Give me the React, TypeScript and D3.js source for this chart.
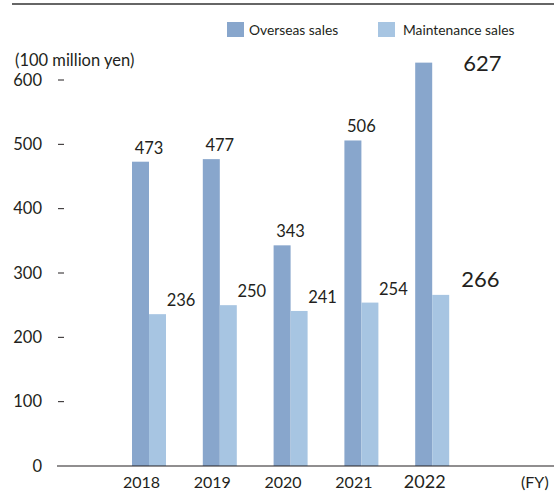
import React from 'react';
import * as d3 from 'd3';

const YEARS = ['2018', '2019', '2020', '2021', '2022'];
const OVERSEAS = [473, 477, 343, 506, 627];
const MAINTENANCE = [236, 250, 241, 254, 266];
const Y_TICKS = [0, 100, 200, 300, 400, 500, 600];

const W = 554;
const H = 492;
const FONT = 'Lato, "Open Sans", sans-serif';
const TEXT = '#231f20';
const C_OVER = '#88a6cc';
const C_MAINT = '#a7c5e2';

export default function App() {
    const y = d3.scaleLinear().domain([0, 600]).range([466, 80]);
    const x = d3.scaleBand<string>().domain(YEARS).range([132, 486]).padding(0);
    const barW = 17;
    const last = YEARS.length - 1;

    return (
        <svg width={W} height={H} viewBox={`0 0 ${W} ${H}`}
            style={{ position: 'absolute', left: 0, top: 0, fontFamily: FONT }}>
            <rect width={W} height={H} fill="#fff" />
            <line x1={12} x2={W} y1={4} y2={4} stroke="#333" strokeWidth={1.5} />

            {/* legend */}
            <rect x={227} y={22} width={17} height={15} fill={C_OVER} />
            <text x={249} y={35} fontSize={13.8} fill={TEXT}>Overseas sales</text>
            <rect x={378} y={22} width={17} height={15} fill={C_MAINT} />
            <text x={403} y={35} fontSize={13.8} fill={TEXT}>Maintenance sales</text>

            <text x={15} y={66} fontSize={16.5} fill={TEXT}>(100 million yen)</text>

            {/* y axis */}
            {Y_TICKS.map(t => (
                <g key={t}>
                    <text x={42} y={y(t) + 5.5} fontSize={16.5} textAnchor="end" fill={TEXT}>{t}</text>
                    {t > 0 && <line x1={58} x2={64} y1={y(t)} y2={y(t)} stroke={TEXT} strokeWidth={1} />}
                </g>
            ))}

            {/* bars */}
            {YEARS.map((yr, i) => {
                const x0 = x(yr)!;
                const big = i === last;
                return (
                    <g key={yr}>
                        <rect x={x0} y={y(OVERSEAS[i])} width={barW} height={y(0) - y(OVERSEAS[i])} fill={C_OVER} />
                        <rect x={x0 + barW} y={y(MAINTENANCE[i])} width={barW} height={y(0) - y(MAINTENANCE[i])} fill={C_MAINT} />
                        {big ? (
                            <text x={x0 + barW + 31} y={y(OVERSEAS[i]) + 8} fontSize={22} textAnchor="start" fill={TEXT}>{OVERSEAS[i]}</text>
                        ) : (
                            <text x={x0 + barW} y={y(OVERSEAS[i]) - 8} fontSize={16.5} textAnchor="middle" fill={TEXT}>{OVERSEAS[i]}</text>
                        )}
                        <text x={big ? x0 + 2 * barW + 12 : x0 + barW + 32} y={y(MAINTENANCE[i]) - 8}
                            fontSize={big ? 22 : 16.5} textAnchor={big ? 'start' : 'middle'} fill={TEXT}>{MAINTENANCE[i]}</text>
                        <text x={x0 + barW / 2 + 1} y={488} fontSize={big ? 18 : 16} textAnchor="middle" fill={TEXT}>{yr}</text>
                    </g>
                );
            })}

            {/* x axis */}
            <line x1={57} x2={W} y1={y(0)} y2={y(0)} stroke={TEXT} strokeWidth={1.2} />
            <text x={521} y={488} fontSize={16} fill={TEXT}>(FY)</text>
        </svg>
    );
}
